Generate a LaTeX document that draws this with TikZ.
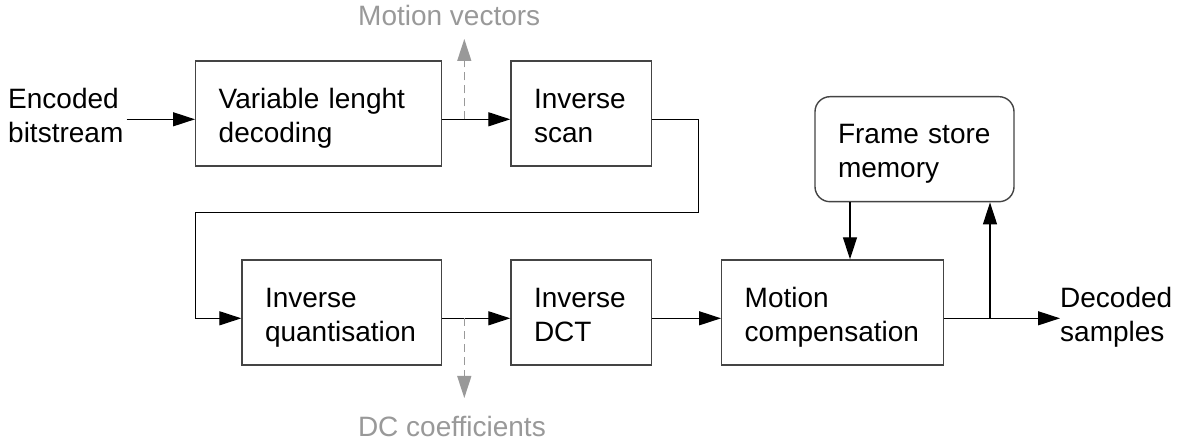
\documentclass[tikz,border=0pt]{standalone}
\usepackage{fontspec}
\setmainfont{Liberation Sans}
\usetikzlibrary{arrows.meta}
\definecolor{sidegray}{HTML}{999999}
\definecolor{edgegray}{HTML}{444444}
% two left-aligned lines with a fixed strut box, so every label sits the same way
\newcommand\twolines[2]{\noindent\rule{0pt}{30pt}\mbox{#1}\\\mbox{#2}\rule[-6.4pt]{0pt}{6.4pt}}

\begin{document}
\begin{tikzpicture}[x=1pt,y=-1pt,
  txt/.style={font={\fontsize{28}{34}\selectfont}},
  block/.style={txt, draw=edgegray, line width=1.4pt, align=left,
    inner xsep=23pt, inner ysep=0pt, minimum height=105pt, text width=#1},
  plain/.style={txt, align=left, inner sep=0pt},
  side/.style={txt, text=sidegray, inner sep=0pt, anchor=base west},
  arr/.style={line width=1.3pt, -{Triangle[length=22pt,width=14pt]}},
  sidearr/.style={draw=sidegray, line width=1.3pt, dash pattern=on 8pt off 5pt,
    -{Triangle[length=22pt,width=14pt]}}
]
\path[fill=white,use as bounding box] (0,0) rectangle (1184,443);

% signal levels of the two rows
\coordinate (r1) at (0,119.3);
\coordinate (r2) at (0,318.3);

% processing blocks
\node[block=200pt]   (vld)  at (318.7,113.5) {\twolines{Variable lenght}{decoding}};
\node[block=94.7pt]  (iscan) at (581.35,113.5) {\twolines{Inverse}{scan}};
\node[block=153.7pt] (iq)   at (341.85,312.5) {\twolines{Inverse}{quantisation}};
\node[block=94.7pt]  (idct) at (581.35,312.5) {\twolines{Inverse}{DCT}};
\node[block=175.6pt] (mc)   at (832.5,312.5) {\twolines{Motion}{compensation}};
\node[block=153pt, rounded corners=15pt] (fs) at (914.5,149.2) {\twolines{Frame store}{memory}};

% input and output labels
\node[plain, anchor=west] (src) at (8,113.5) {\twolines{Encoded}{bitstream}};
\node[plain, anchor=west] (out) at (1060,312.5) {\twolines{Decoded}{samples}};

% side outputs
\node[side] (mvtxt) at (358,26) {Motion vectors};
\node[side] (dctxt) at (357.8,436.7) {DC coefficients};

% main chain
\draw[arr] ([xshift=3pt]src.east |- r1) -- (vld.west |- r1);
\draw[arr] (vld.east |- r1) -- (iscan.west |- r1);
\coordinate (fbA) at (698.3,212.7);
\coordinate (fbB) at (195.7,212.7);
\draw[arr] (iscan.east |- r1) -| (fbA) -- (fbB) |- (iq.west |- r2);
\draw[arr] (iq.east |- r2) -- (idct.west |- r2);
\draw[arr] (idct.east |- r2) -- (mc.west |- r2);
\draw[arr] (mc.east |- r2) -- (out.west |- r2);

% frame store loop
\coordinate (fsx) at (850,0);
\coordinate (br) at (990,318.3);
\draw[arr] (fs.south -| fsx) -- (mc.north -| fsx);
\draw[arr] (br) -- (fs.south -| br);

% dashed side taps
\coordinate (mvbase) at (464.3,119.3);
\coordinate (mvtip) at (464.3,39);
\coordinate (dcbase) at (464.3,318.3);
\coordinate (dctip) at (464.3,398);
\draw[sidearr] (mvbase) -- (mvtip);
\draw[sidearr] (dcbase) -- (dctip);
\end{tikzpicture}
\end{document}
